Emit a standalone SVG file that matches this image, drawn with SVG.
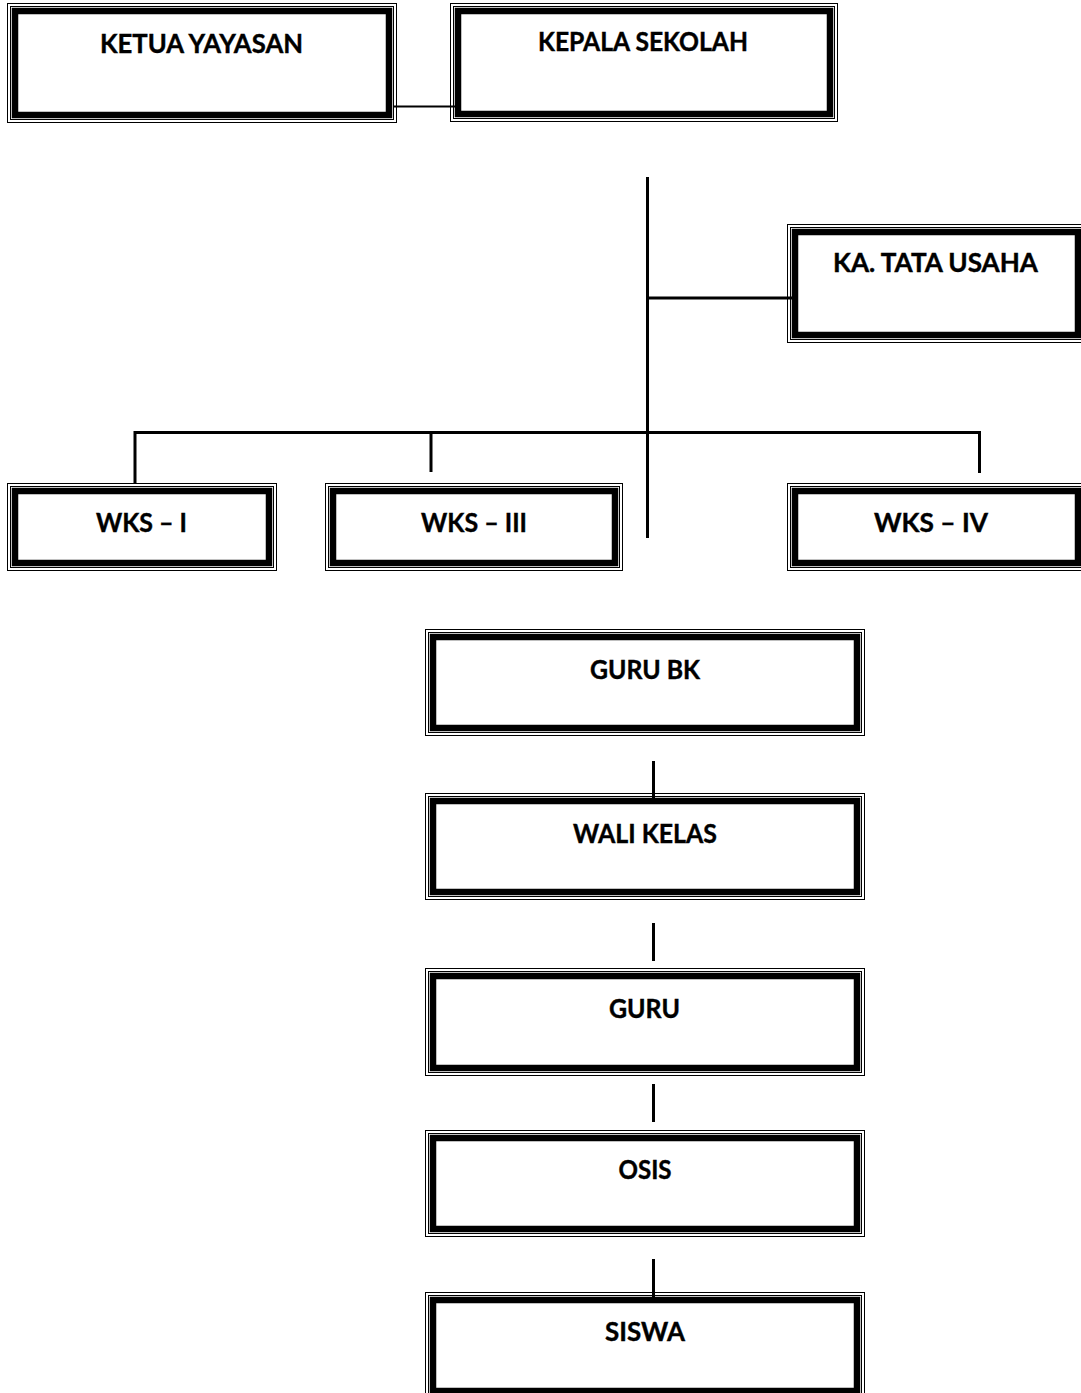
<svg xmlns="http://www.w3.org/2000/svg" width="1081" height="1393" viewBox="0 0 1081 1393">
<style>
.o{fill:none;stroke:#000;stroke-width:1}
.m{fill:none;stroke:#000;stroke-width:1}
.t{fill:#fff;stroke:#000;stroke-width:6.5}
.lbl{font-family:Lato,"Open Sans","Liberation Sans",sans-serif;font-weight:bold;font-size:26px;fill:#000;stroke:#000;stroke-width:0.4;text-anchor:middle}
.c{fill:none;stroke:#000;stroke-width:3}
</style>
<rect width="1081" height="1393" fill="#fff"/>
<g id="connectors">
<line class="c" x1="393" y1="106.5" x2="455" y2="106.5" style="stroke-width:2"/>
<line class="c" x1="647.5" y1="177" x2="647.5" y2="538"/>
<line class="c" x1="647.5" y1="298" x2="792" y2="298"/>
<path class="c" d="M135,484 V432.5 H979.5 V473"/>
<line class="c" x1="431" y1="432.5" x2="431" y2="472"/>
<line class="c" x1="653.5" y1="761" x2="653.5" y2="798"/>
<line class="c" x1="653.5" y1="923" x2="653.5" y2="961"/>
<line class="c" x1="653.5" y1="1084" x2="653.5" y2="1122"/>
<line class="c" x1="653.5" y1="1259" x2="653.5" y2="1297"/>
</g>
<g id="ketua-yayasan">
<rect class="o" x="7.5" y="3.5" width="389" height="119"/>
<rect class="m" x="10.5" y="6.5" width="383" height="113"/>
<rect class="t" x="15" y="11" width="374" height="104"/>
<text class="lbl" x="201.5" y="53" textLength="203" lengthAdjust="spacingAndGlyphs">KETUA YAYASAN</text>
</g>
<g id="kepala-sekolah">
<rect class="o" x="450.5" y="3.5" width="387" height="118"/>
<rect class="m" x="453.5" y="6.5" width="381" height="112"/>
<rect class="t" x="458" y="11" width="372" height="103"/>
<text class="lbl" x="643" y="51" textLength="210" lengthAdjust="spacingAndGlyphs">KEPALA SEKOLAH</text>
</g>
<g id="ka-tata-usaha">
<rect class="o" x="787.5" y="224.5" width="298" height="118"/>
<rect class="m" x="790.5" y="227.5" width="292" height="112"/>
<rect class="t" x="795" y="232" width="283" height="103"/>
<text class="lbl" x="935.5" y="272" textLength="205" lengthAdjust="spacingAndGlyphs">KA. TATA USAHA</text>
</g>
<g id="wks-i">
<rect class="o" x="7.5" y="483.5" width="269" height="87"/>
<rect class="m" x="10.5" y="486.5" width="263" height="81"/>
<rect class="t" x="15" y="491" width="254" height="72"/>
<text class="lbl" x="141.5" y="532" textLength="91" lengthAdjust="spacingAndGlyphs">WKS – I</text>
</g>
<g id="wks-iii">
<rect class="o" x="325.5" y="483.5" width="297" height="87"/>
<rect class="m" x="328.5" y="486.5" width="291" height="81"/>
<rect class="t" x="333" y="491" width="282" height="72"/>
<text class="lbl" x="474" y="532" textLength="106" lengthAdjust="spacingAndGlyphs">WKS – III</text>
</g>
<g id="wks-iv">
<rect class="o" x="787.5" y="483.5" width="298" height="87"/>
<rect class="m" x="790.5" y="486.5" width="292" height="81"/>
<rect class="t" x="795" y="491" width="283" height="72"/>
<text class="lbl" x="931" y="532" textLength="114" lengthAdjust="spacingAndGlyphs">WKS – IV</text>
</g>
<g id="guru-bk">
<rect class="o" x="425.5" y="629.5" width="439" height="106"/>
<rect class="m" x="428.5" y="632.5" width="433" height="100"/>
<rect class="t" x="433" y="637" width="424" height="91"/>
<text class="lbl" x="645" y="679" textLength="110" lengthAdjust="spacingAndGlyphs">GURU BK</text>
</g>
<g id="wali-kelas">
<rect class="o" x="425.5" y="793.5" width="439" height="106"/>
<rect class="m" x="428.5" y="796.5" width="433" height="100"/>
<rect class="t" x="433" y="801" width="424" height="91"/>
<text class="lbl" x="645" y="843" textLength="144" lengthAdjust="spacingAndGlyphs">WALI KELAS</text>
</g>
<g id="guru">
<rect class="o" x="425.5" y="968.5" width="439" height="107"/>
<rect class="m" x="428.5" y="971.5" width="433" height="101"/>
<rect class="t" x="433" y="976" width="424" height="92"/>
<text class="lbl" x="644.5" y="1018" textLength="71" lengthAdjust="spacingAndGlyphs">GURU</text>
</g>
<g id="osis">
<rect class="o" x="425.5" y="1130.5" width="439" height="106"/>
<rect class="m" x="428.5" y="1133.5" width="433" height="100"/>
<rect class="t" x="433" y="1138" width="424" height="91"/>
<text class="lbl" x="645" y="1179" textLength="53" lengthAdjust="spacingAndGlyphs">OSIS</text>
</g>
<g id="siswa">
<rect class="o" x="425.5" y="1292.5" width="439" height="106"/>
<rect class="m" x="428.5" y="1295.5" width="433" height="100"/>
<rect class="t" x="433" y="1300" width="424" height="91"/>
<text class="lbl" x="645" y="1341" textLength="80" lengthAdjust="spacingAndGlyphs">SISWA</text>
</g>
</svg>
